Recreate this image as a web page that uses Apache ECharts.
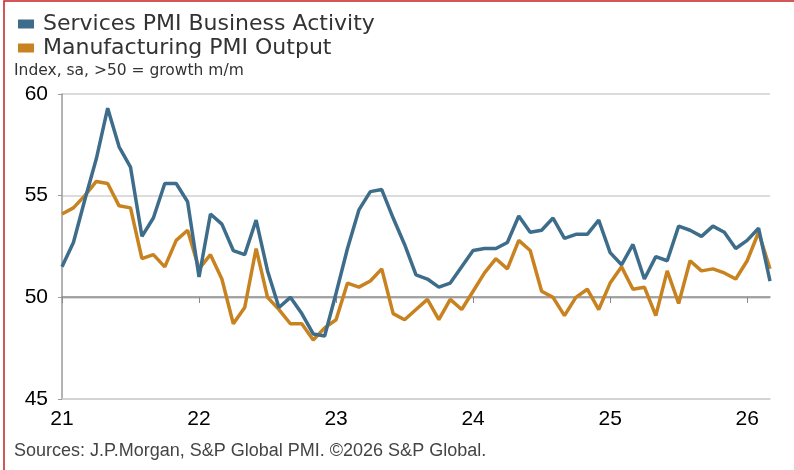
<!DOCTYPE html>
<html>
<head>
<meta charset="utf-8">
<script src="https://cdn.jsdelivr.net/npm/echarts@6/dist/echarts.min.js"></script>
<style>
  html, body { margin: 0; padding: 0; background: #fff; }
  #main { width: 794px; height: 470px; }
</style>
</head>
<body>
<div id="main"></div>
<script>
'use strict';

// monthly, Jan 2021 .. Mar 2026
let months = [];
for (let y = 21; y <= 26; y++) {
	for (let m = 1; m <= 12; m++) {
		if (y === 26 && m > 3) break;
		months.push(y + '-' + m);
	}
}

let services = [
	51.5, 52.7, 54.8, 56.8, 59.3, 57.4, 56.4, 53.0, 53.9, 55.6, 55.6, 54.7,
	51.0, 54.1, 53.6, 52.3, 52.1, 53.8, 51.3, 49.5, 50.0, 49.2, 48.2, 48.1,
	50.2, 52.4, 54.3, 55.2, 55.3, 53.9, 52.6, 51.1, 50.9, 50.5, 50.7, 51.5,
	52.3, 52.4, 52.4, 52.7, 54.0, 53.2, 53.3, 53.9, 52.9, 53.1, 53.1, 53.8,
	52.2, 51.6, 52.6, 50.9, 52.0, 51.8, 53.5, 53.3, 53.0, 53.5, 53.2, 52.4,
	52.8, 53.4, 50.8
];

let manufacturing = [
	54.1, 54.4, 55.0, 55.7, 55.6, 54.5, 54.4, 51.9, 52.1, 51.5, 52.8, 53.3,
	51.4, 52.1, 50.9, 48.7, 49.5, 52.4, 50.0, 49.4, 48.7, 48.7, 47.9, 48.5,
	48.9, 50.7, 50.5, 50.8, 51.4, 49.2, 48.9, 49.4, 49.9, 48.9, 49.9, 49.4,
	50.3, 51.2, 51.9, 51.4, 52.8, 52.3, 50.3, 50.0, 49.1, 50.0, 50.4, 49.4,
	50.7, 51.5, 50.4, 50.5, 49.1, 51.3, 49.7, 51.8, 51.3, 51.4, 51.2, 50.9,
	51.8, 53.2, 51.4
];

let yTicks = [45, 50, 55, 60];

let blue = '#3e6d8b';
let orange = '#c8821f';
let textColor = '#333333';

let myChart = echarts.init(document.getElementById('main'));

let option = {
	backgroundColor: '#fff',
	animation: false,
	legend: {
		orient: 'vertical',
		left: 13,
		top: 8,
		itemGap: 2,
		itemWidth: 16,
		itemHeight: 9,
		icon: 'rect',
		textStyle: {
			fontFamily: 'DejaVu Sans',
			fontSize: 22,
			color: textColor,
			padding: [0, 0, 0, 4]
		},
		data: ['Services PMI Business Activity', 'Manufacturing PMI Output']
	},
	graphic: [{
		type: 'text',
		left: 14,
		top: 63,
		style: {
			text: 'Index, sa, >50 = growth m/m',
			fontFamily: 'DejaVu Sans',
			fontSize: 15.5,
			fill: textColor
		}
	}, {
		type: 'text',
		left: 14,
		top: 442,
		style: {
			text: 'Sources: J.P.Morgan, S&P Global PMI. ©2026 S&P Global.',
			fontFamily: 'Liberation Sans',
			fontSize: 18,
			fill: '#444'
		}
	}, {
		type: 'rect',
		shape: { x: 4, y: 1, width: 820, height: 500 },
		style: { fill: 'none', stroke: '#c62020', lineWidth: 1.5 },
		silent: true
	}],
	grid: {
		left: 62,
		right: 24,
		top: 94,
		bottom: 71,
		containLabel: false
	},
	xAxis: [{
		type: 'category',
		data: months,
		boundaryGap: false,
		axisLine: { lineStyle: { color: '#d0d0d0', width: 1.5 } },
		axisTick: { show: false },
		axisLabel: {
			interval: 11,
			margin: 10,
			fontFamily: 'Liberation Sans',
			fontSize: 21,
			color: '#000',
			formatter: v => v.split('-')[0]
		}
	}, {
		type: 'category',
		data: months,
		boundaryGap: false,
		position: 'bottom',
		offset: -102,
		axisLine: { lineStyle: { color: '#8a8a8a', width: 1.5 } },
		axisTick: { show: true, interval: 11, length: 6, lineStyle: { color: '#8a8a8a' } },
		axisLabel: { show: false }
	}],
	yAxis: {
		type: 'value',
		min: yTicks[0],
		max: yTicks[yTicks.length - 1],
		interval: 5,
		axisLine: { show: true, lineStyle: { color: '#9a9a9a', width: 1.5 } },
		axisTick: { show: true, length: 4, lineStyle: { color: '#9a9a9a' } },
		axisLabel: {
			margin: 14,
			fontFamily: 'Liberation Sans',
			fontSize: 21,
			color: '#000'
		},
		splitLine: { lineStyle: { color: '#d0d0d0', width: 1.5 } }
	},
	series: [{
		name: 'Services PMI Business Activity',
		type: 'line',
		data: services,
		symbol: 'none',
		z: 3,
		itemStyle: { color: blue },
		lineStyle: { color: blue, width: 3.5 }
	}, {
		name: 'Manufacturing PMI Output',
		type: 'line',
		data: manufacturing,
		symbol: 'none',
		z: 2,
		itemStyle: { color: orange },
		lineStyle: { color: orange, width: 3.5 }
	}]
};
myChart.setOption(option);
</script>
</body>
</html>
